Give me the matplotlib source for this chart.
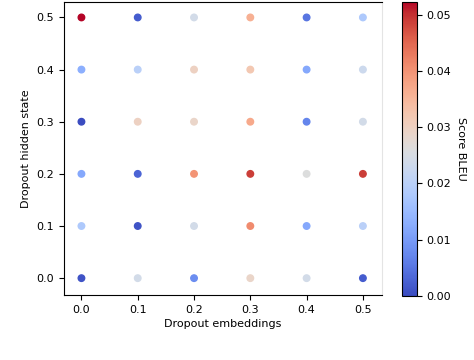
import matplotlib
matplotlib.use("Agg")
import matplotlib.pyplot as plt
import numpy as np

# Dropout grid and BLEU scores
dropout_emb = [0.0, 0.1, 0.2, 0.3, 0.4, 0.5]
dropout_hid = [0.0, 0.1, 0.2, 0.3, 0.4, 0.5]

# rows: hidden state 0.0 .. 0.5, columns: embeddings 0.0 .. 0.5
bleu_h00 = [0.001, 0.024, 0.008, 0.029, 0.024, 0.002]
bleu_h01 = [0.018, 0.001, 0.024, 0.041, 0.012, 0.020]
bleu_h02 = [0.012, 0.003, 0.040, 0.049, 0.026, 0.049]
bleu_h03 = [0.000, 0.030, 0.029, 0.037, 0.007, 0.024]
bleu_h04 = [0.013, 0.020, 0.030, 0.032, 0.012, 0.023]
bleu_h05 = [0.0523, 0.002, 0.024, 0.036, 0.005, 0.018]

rows = [bleu_h00, bleu_h01, bleu_h02, bleu_h03, bleu_h04, bleu_h05]

xs, ys, cs = [], [], []
for h, row in zip(dropout_hid, rows):
    for e, v in zip(dropout_emb, row):
        xs.append(e)
        ys.append(h)
        cs.append(v)

fig = plt.figure(figsize=(4.74, 3.6), dpi=100)
ax = fig.add_axes([0.135, 0.181, 0.671, 0.814])
cax = fig.add_axes([0.848, 0.178, 0.031, 0.817])

sc = ax.scatter(xs, ys, c=cs, cmap="coolwarm", s=22)
ax.set_xlim(-0.031, 0.534)
ax.set_ylim(-0.032, 0.530)
ax.set_xticks(dropout_emb)
ax.set_yticks(dropout_hid)
ax.tick_params(labelsize=8)
ax.spines["right"].set_color("#e4e4e4")
ax.set_xlabel("Dropout embeddings", fontsize=8, labelpad=3)
ax.set_ylabel("Dropout hidden state", fontsize=8)

cb = fig.colorbar(sc, cax=cax)
cb.ax.tick_params(labelsize=8)
cb.set_label("Score BLEU", rotation=270, fontsize=8, labelpad=11)

fig.savefig("out.png", dpi=100)
